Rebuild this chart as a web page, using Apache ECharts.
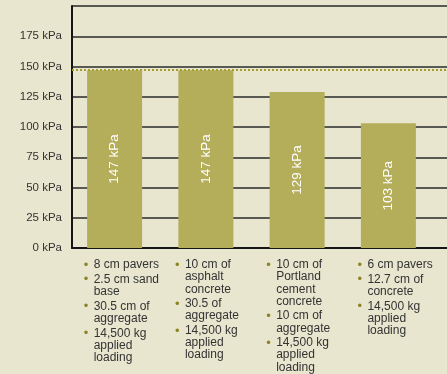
<!DOCTYPE html>
<html>
<head>
<meta charset="utf-8">
<script src="https://cdn.jsdelivr.net/npm/echarts@6/dist/echarts.min.js"></script>
<style>
  html, body { margin: 0; padding: 0; background: #E8E6CF; }
  #chart { width: 447px; height: 374px; }
</style>
</head>
<body>
<div id="chart"></div>
<script>
  // pavement sections, stress at 14,500 kg load
  const categories = ['Pavers', 'Asphalt', 'Portland cement', 'Pavers on concrete'];
  const stressValues = [147, 147, 129, 103];
  const referenceLine = 147;
  const yTicks = [0, 25, 50, 75, 100, 125, 150, 175, 200];

  // bullet notes under each bar (each item split into its lines)
  const notes = [
    [['8 cm pavers'], ['2.5 cm sand', 'base'], ['30.5 cm of', 'aggregate'], ['14,500 kg', 'applied', 'loading']],
    [['10 cm of', 'asphalt', 'concrete'], ['30.5 of', 'aggregate'], ['14,500 kg', 'applied', 'loading']],
    [['10 cm of', 'Portland', 'cement', 'concrete'], ['10 cm of', 'aggregate'], ['14,500 kg', 'applied', 'loading']],
    [['6 cm pavers'], ['12.7 cm of', 'concrete'], ['14,500 kg', 'applied', 'loading']]
  ];

  const font = '"Liberation Sans", Arial, Helvetica, sans-serif';

  function noteText(name) {
    const items = notes[categories.indexOf(name)];
    const lines = [];
    items.forEach((item, i) => {
      if (i > 0) lines.push('{gap| }');
      item.forEach((ln, j) => {
        lines.push((j === 0 ? '{b|•}' : '{ind| }') + '{t|' + ln + '}');
      });
    });
    return lines.join('\n');
  }

  const chart = echarts.init(document.getElementById('chart'));
  chart.setOption({
    backgroundColor: '#E8E6CF',
    animation: false,
    grid: [
      // axes + grid lines
      { left: 72, right: 0, top: 6, bottom: 126, outerBoundsMode: 'none' },
      // bars + bullet notes
      { left: 69, right: 13, top: 6, bottom: 126, outerBoundsMode: 'none' }
    ],
    xAxis: [
      {
        gridIndex: 0, type: 'value', min: 0, max: 1,
        axisLine: { show: true, lineStyle: { color: '#151515', width: 2 } },
        axisTick: { show: false }, axisLabel: { show: false }, splitLine: { show: false }
      },
      {
        gridIndex: 1, type: 'category', data: categories,
        axisLine: { show: false }, axisTick: { show: false }, splitLine: { show: false },
        axisLabel: {
          interval: 0,
          margin: 11,
          width: 62,
          overflow: 'none',
          formatter: noteText,
          rich: {
            b: { align: 'left', width: 10, color: '#8C8526', fontSize: 13, lineHeight: 12.1, fontFamily: font },
            ind: { align: 'left', width: 10, fontSize: 12, lineHeight: 12.1, fontFamily: font },
            t: { align: 'left', color: '#333', fontSize: 12, lineHeight: 12.1, fontFamily: font },
            gap: { align: 'left', fontSize: 2, lineHeight: 2.7 }
          }
        }
      }
    ],
    yAxis: [
      {
        gridIndex: 0, type: 'value', min: yTicks[0], max: yTicks[yTicks.length - 1], interval: 25,
        axisLine: { show: true, lineStyle: { color: '#151515', width: 2 } },
        axisTick: { show: false },
        splitLine: { show: true, lineStyle: { color: '#2a2a2a', width: 1.5 } },
        axisLabel: {
          margin: 10, color: '#333', fontSize: 11.5, fontFamily: font,
          formatter: v => (v === 200 ? '' : v + ' kPa')
        }
      },
      {
        gridIndex: 1, type: 'value', min: yTicks[0], max: yTicks[yTicks.length - 1], show: false
      }
    ],
    series: [
      {
        type: 'line', xAxisIndex: 0, yAxisIndex: 0, data: [],
        markLine: {
          silent: true, symbol: 'none', label: { show: false },
          lineStyle: { color: '#A59E2A', width: 2, type: [2, 2] },
          data: [{ yAxis: referenceLine }]
        }
      },
      {
        type: 'bar', xAxisIndex: 1, yAxisIndex: 1,
        data: stressValues,
        barWidth: 55,
        itemStyle: { color: '#B4AD5A' },
        label: {
          show: true, position: 'inside', rotate: 90,
          color: '#fff', fontSize: 13.5, fontFamily: font,
          formatter: '{c} kPa'
        }
      }
    ]
  });
</script>
</body>
</html>
